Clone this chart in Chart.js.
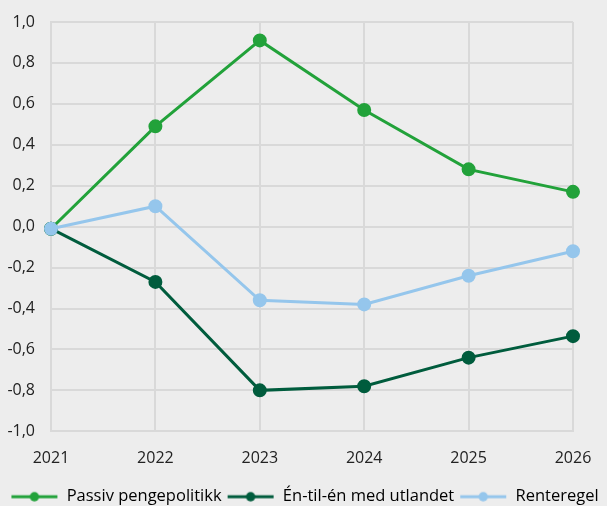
<!DOCTYPE html>
<html>
<head>
<meta charset="utf-8">
<script src="https://cdn.jsdelivr.net/npm/chart.js@4.4.1/dist/chart.umd.min.js"></script>
<style>
html,body{margin:0;padding:0;background:#ededed;}
#wrap{width:607px;height:506px;position:relative;}
</style>
</head>
<body>
<div id="wrap"><canvas id="c" width="607" height="506"></canvas></div>
<script>
const years = ["2021","2022","2023","2024","2025","2026"];
const passiv = [-0.01, 0.49, 0.91, 0.57, 0.28, 0.17];
const entilen = [-0.01, -0.27, -0.80, -0.78, -0.64, -0.535];
const renteregel = [-0.01, 0.10, -0.36, -0.38, -0.24, -0.12];
const seriesNames = ["Passiv pengepolitikk", "Én-til-én med utlandet", "Renteregel"];
const colors = ["#22a23a", "#005c3d", "#95c6ec"];

function legendIcon(color){
  const c = document.createElement('canvas');
  c.width = 48; c.height = 12;
  const x = c.getContext('2d');
  x.strokeStyle = color; x.lineWidth = 3;
  x.beginPath(); x.moveTo(1,6); x.lineTo(47,6); x.stroke();
  x.fillStyle = color;
  x.beginPath(); x.arc(24,6,4.7,0,Math.PI*2); x.fill();
  return c;
}

const seriesData = [passiv, entilen, renteregel];
const datasets = seriesData.map((d,i)=>({
  label: seriesNames[i],
  data: d,
  borderColor: colors[i],
  backgroundColor: colors[i],
  borderWidth: 3,
  pointRadius: 5.5,
  pointHoverRadius: 5.5,
  pointStyle: 'circle',
  order: 3 - i,
  tension: 0
}));
const icons = colors.map(legendIcon);

Chart.defaults.font.family = "'Open Sans', 'Noto Sans', sans-serif";
Chart.defaults.color = '#222';

new Chart(document.getElementById('c'), {
  type: 'line',
  data: { labels: years, datasets },
  options: {
    responsive: false,
    animation: false,
    layout: { padding: { left: 2, right: 0, top: 22, bottom: -9 } },
    plugins: {
      tooltip: { enabled: false },
      legend: {
        position: 'bottom',
        labels: {
          usePointStyle: true,
          pointStyleWidth: 48,
          padding: 5,
          font: { size: 16.5 },
          color: '#222',
          generateLabels: (chart) => chart.data.datasets.map((ds,i)=>({
            text: ds.label,
            pointStyle: icons[i],
            fillStyle: ds.borderColor,
            strokeStyle: ds.borderColor,
            lineWidth: 0,
            hidden: false,
            datasetIndex: i
          }))
        }
      }
    },
    scales: {
      x: {
        offset: false,
        grid: { color: '#d9d9d9', lineWidth: 2, drawTicks: false },
        border: { color: '#d9d9d9', width: 2 },
        ticks: { padding: 18, font: { size: 16 }, color: '#222', maxRotation: 0 },
        afterFit: (s) => { s.paddingRight = 34; s.paddingLeft = 0; s.height -= 3; }
      },
      y: {
        min: -1, max: 1,
        grid: { color: '#d9d9d9', lineWidth: 2, drawTicks: false },
        border: { color: '#d9d9d9', width: 2 },
        ticks: {
          stepSize: 0.2, padding: 16, font: { size: 16 }, color: '#222',
          callback: (v) => (Math.round(v*10)/10).toFixed(1).replace('.', ',')
        },
        afterFit: (s) => { s.width = 49; s.paddingTop = 0; s.paddingBottom = 0; }
      }
    }
  }
});
</script>
</body>
</html>
